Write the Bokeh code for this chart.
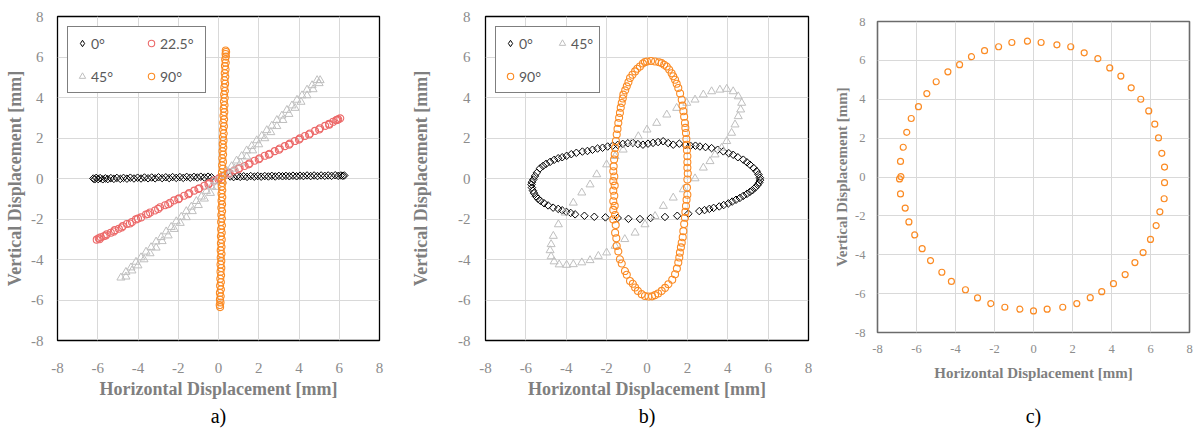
import math
from bokeh.plotting import figure
from bokeh.layouts import row, column
from bokeh.models import Range1d, FixedTicker, Legend, LegendItem, LinearAxis
from bokeh.embed import file_html
from bokeh.resources import INLINE

# ---------------- data ----------------
ticks = [-8, -6, -4, -2, 0, 2, 4, 6, 8]
tick_labels = ["-8", "-6", "-4", "-2", "0", "2", "4", "6", "8"]
x_title = "Horizontal Displacement [mm]"
y_title = "Vertical Displacement [mm]"
captions = ["a)", "b)", "c)"]
labels_a = ["0°", "22.5°", "45°", "90°"]
labels_b = ["0°", "45°", "90°"]

# panel a) 0 deg (x, y)
a_0 = [(-6.22,0.0),(-6.15,-0.04),(-6.08,0.03),(-5.98,-0.03),(-5.88,0.02),(-5.75,-0.04),(-5.62,0.01),
       (-5.5,-0.03),(-5.35,0.02),(-5.2,-0.02),(-5.05,0.03),(-4.88,-0.02),(-4.72,0.03),(-4.55,-0.01),
       (-4.38,0.04),(-4.2,0.0),(-4.02,0.04),(-3.85,0.0),(-3.68,0.05),(-3.5,0.01),(-3.32,0.05),(-3.15,0.01),
       (-2.98,0.06),(-2.8,0.02),(-2.62,0.06),(-2.45,0.02),(-2.28,0.07),(-2.1,0.03),(-1.92,0.07),(-1.75,0.03),
       (-1.58,0.08),(-1.4,0.04),(-1.22,0.08),(-1.05,0.05),(-0.88,0.09),(-0.7,0.05),(-0.52,0.09),(-0.35,0.06),
       (0.58,0.1),(0.75,0.07),(0.92,0.11),(1.08,0.08),(1.25,0.11),(1.42,0.08),(1.6,0.12),(1.78,0.09),
       (1.95,0.12),(2.12,0.09),(2.3,0.12),(2.48,0.1),(2.65,0.13),(2.82,0.1),(3.0,0.13),(3.18,0.11),
       (3.35,0.13),(3.52,0.11),(3.7,0.14),(3.88,0.11),(4.05,0.14),(4.22,0.12),(4.4,0.15),(4.58,0.12),
       (4.75,0.15),(4.92,0.12),(5.1,0.15),(5.28,0.13),(5.45,0.15),(5.62,0.13),(5.8,0.16),(5.95,0.13),
       (6.08,0.15),(6.18,0.13),(6.25,0.15)]
# panel a) 22.5 deg
a_22 = [(-6.05,-3.02),(-5.95,-2.95),(-5.85,-2.9),(-5.7,-2.85),(-5.55,-2.75),(-5.35,-2.68),(-5.15,-2.55),
        (-4.95,-2.48),(-4.75,-2.35),(-4.55,-2.25),(-4.3,-2.15),(-4.1,-2.02),(-3.85,-1.92),(-3.6,-1.78),
        (-3.4,-1.68),(-3.15,-1.58),(-2.9,-1.42),(-2.65,-1.32),(-2.4,-1.2),(-2.2,-1.08),(-1.95,-0.98),
        (-1.7,-0.85),(-1.45,-0.72),(-1.2,-0.6),(-0.95,-0.48),(-0.7,-0.36),(-0.45,-0.22),(-0.2,-0.1),
        (0.05,0.02),(0.3,0.15),(0.55,0.28),(0.8,0.4),(1.05,0.52),(1.3,0.62),(1.55,0.75),(1.8,0.88),
        (2.05,1.0),(2.3,1.12),(2.55,1.22),(2.8,1.35),(3.05,1.48),(3.3,1.6),(3.55,1.72),(3.8,1.85),
        (4.05,1.98),(4.3,2.1),(4.55,2.22),(4.8,2.35),(5.05,2.48),(5.3,2.6),(5.5,2.7),(5.7,2.8),
        (5.85,2.88),(5.95,2.92),(6.05,2.97),
        (-5.9,-3.0),(-5.6,-2.82),(-5.2,-2.62),(-4.8,-2.42),(-4.4,-2.22),(-4.0,-1.98),(-3.5,-1.75),
        (-3.0,-1.5),(-2.5,-1.27),(-2.0,-1.02),(-1.5,-0.78),(-1.0,-0.52),(-0.5,-0.28),(0.0,-0.04),
        (0.5,0.22),(1.0,0.47),(1.5,0.7),(2.0,0.95),(2.5,1.18),(3.0,1.42),(3.5,1.67),(4.0,1.92),
        (4.5,2.17),(5.0,2.42),(5.5,2.66),(5.9,2.9)]
# panel a) 45 deg
a_45 = [(-4.85,-4.9),(-4.6,-4.62),(-4.35,-4.4),(-4.1,-4.12),(-3.85,-3.9),(-3.6,-3.62),(-3.35,-3.4),
        (-3.1,-3.12),(-2.85,-2.9),(-2.6,-2.62),(-2.35,-2.4),(-2.1,-2.12),(-1.85,-1.9),(-1.6,-1.62),
        (-1.35,-1.4),(-1.1,-1.12),(-0.85,-0.9),(-0.6,-0.62),(-0.35,-0.4),(-0.1,-0.12),(0.15,0.1),
        (0.4,0.38),(0.65,0.6),(0.9,0.88),(1.15,1.1),(1.4,1.38),(1.65,1.6),(1.9,1.88),(2.15,2.1),
        (2.4,2.38),(2.65,2.6),(2.9,2.88),(3.15,3.1),(3.4,3.38),(3.65,3.6),(3.9,3.88),(4.15,4.1),
        (4.4,4.38),(4.65,4.6),(4.9,4.85),
        (-4.6,-4.85),(-4.3,-4.55),(-4.0,-4.3),(-3.7,-4.0),(-3.4,-3.7),(-3.1,-3.42),(-2.8,-3.1),
        (-2.5,-2.82),(-2.2,-2.5),(-1.9,-2.2),(-1.6,-1.92),(-1.3,-1.62),(-1.0,-1.32),(-0.7,-1.0),
        (-0.4,-0.72),(-0.1,-0.42),(0.2,-0.12),(0.5,0.18),(0.8,0.48),(1.1,0.78),(1.4,1.08),(1.7,1.38),
        (2.0,1.68),(2.3,1.98),(2.6,2.28),(2.9,2.58),(3.2,2.88),(3.5,3.18),(3.8,3.48),(4.1,3.78),
        (4.4,4.1),(4.7,4.4),(5.0,4.7),(5.05,4.85)]
# panel a) 90 deg
a_90 = [(0.08,-6.35),(0.06,-6.25),(0.1,-6.12),(0.07,-5.98),(0.11,-5.82),(0.07,-5.65),(0.12,-5.48),
        (0.08,-5.3),(0.12,-5.12),(0.09,-4.95),(0.13,-4.78),(0.1,-4.6),(0.14,-4.42),(0.1,-4.25),
        (0.14,-4.08),(0.11,-3.9),(0.15,-3.72),(0.11,-3.55),(0.15,-3.38),(0.12,-3.2),(0.16,-3.02),
        (0.12,-2.85),(0.16,-2.68),(0.13,-2.5),(0.17,-2.32),(0.13,-2.15),(0.17,-1.98),(0.14,-1.8),
        (0.18,-1.62),(0.14,-1.45),(0.18,-1.28),(0.15,-1.1),(0.19,-0.92),(0.15,-0.75),(0.19,-0.58),
        (0.16,-0.4),(0.2,-0.22),(0.16,-0.05),(0.2,0.12),(0.17,0.3),(0.21,0.48),(0.18,0.65),(0.22,0.82),
        (0.19,1.0),(0.23,1.18),(0.2,1.35),(0.24,1.52),(0.21,1.7),(0.25,1.88),(0.22,2.05),(0.26,2.22),
        (0.23,2.4),(0.27,2.58),(0.24,2.75),(0.28,2.92),(0.25,3.1),(0.29,3.28),(0.26,3.45),(0.3,3.62),
        (0.27,3.8),(0.31,3.98),(0.28,4.15),(0.32,4.32),(0.29,4.5),(0.33,4.68),(0.3,4.85),(0.34,5.02),
        (0.31,5.2),(0.35,5.38),(0.32,5.55),(0.36,5.72),(0.33,5.88),(0.37,6.02),(0.35,6.15),(0.38,6.25),
        (0.36,6.32)]

# panel b) 0 deg
b_0 = [(-5.63,-0.05),(-5.55,0.12),(-5.46,0.28),(-5.3,0.5),(-5.15,0.62),(-5.0,0.72),(-4.8,0.82),
       (-4.6,0.92),(-4.4,1.0),(-4.2,1.05),(-3.98,1.12),(-3.75,1.2),(-3.5,1.27),(-3.2,1.33),(-2.95,1.36),
       (-2.7,1.42),(-2.45,1.48),(-2.2,1.52),(-1.95,1.58),(-1.7,1.62),(-1.45,1.66),(-1.2,1.71),(-0.95,1.74),
       (-0.7,1.76),(-0.45,1.7),(-0.2,1.67),(0.05,1.72),(0.3,1.76),(0.55,1.8),(0.8,1.84),(1.05,1.75),
       (1.3,1.67),(1.6,1.72),(1.9,1.65),(2.15,1.62),(2.4,1.62),(2.62,1.58),(2.9,1.55),(3.2,1.5),
       (3.5,1.42),(3.78,1.34),(4.05,1.25),(4.27,1.17),(4.5,1.05),(4.77,0.93),(4.95,0.8),(5.1,0.68),
       (5.28,0.52),(5.43,0.36),(5.52,0.2),(5.59,0.04),(5.6,-0.08),
       (5.56,-0.2),(5.48,-0.32),(5.36,-0.45),(5.22,-0.58),(5.1,-0.66),(4.95,-0.76),(4.77,-0.86),
       (4.6,-0.96),(4.41,-1.05),(4.22,-1.14),(4.03,-1.23),(3.8,-1.31),(3.58,-1.38),(3.3,-1.45),
       (3.09,-1.5),(2.85,-1.56),(2.59,-1.61),(2.05,-1.74),(1.5,-1.84),(0.89,-1.9),(0.18,-1.95),
       (-0.35,-2.0),(-0.92,-1.99),(-1.45,-1.95),(-2.06,-1.92),(-2.61,-1.89),(-3.1,-1.84),(-3.56,-1.77),
       (-3.78,-1.7),(-4.0,-1.64),(-4.2,-1.57),(-4.4,-1.5),(-4.65,-1.44),(-4.9,-1.33),(-5.1,-1.22),
       (-5.28,-1.1),(-5.4,-1.0),(-5.5,-0.88),(-5.6,-0.72),(-5.65,-0.6),(-5.7,-0.45),(-5.72,-0.3),
       (-5.7,-0.18)]
# panel b) 45 deg
b_45 = [(4.27,4.3),(3.95,4.42),(3.61,4.38),(3.2,4.3),(2.79,4.14),(2.38,3.89),(1.97,3.73),(1.47,3.48),
        (0.98,3.15),(0.48,2.74),(0.0,2.41),(-0.43,2.08),(-0.76,1.76),(-1.18,1.42),(-1.58,1.1),(-2.0,0.69),
        (-2.49,0.2),(-2.82,-0.3),(-3.23,-0.7),(-3.65,-1.2),(-4.06,-1.69),(-4.39,-2.27),(-4.64,-2.84),
        (-4.75,-3.25),(-4.8,-3.55),(-4.75,-3.85),(-4.6,-4.1),(-4.35,-4.25),
        (-3.98,-4.27),(-3.65,-4.24),(-3.23,-4.15),(-2.82,-4.04),(-2.41,-3.83),(-2.0,-3.66),(-1.58,-3.33),
        (-1.1,-3.0),(-0.59,-2.68),(-0.1,-2.27),(0.4,-1.86),(0.81,-1.36),(1.3,-0.95),(1.8,-0.54),
        (2.38,0.0),(2.79,0.53),(3.12,0.85),(3.37,1.18),(3.7,1.51),(3.95,1.84),(4.19,2.25),(4.36,2.66),
        (4.52,3.07),(4.64,3.4),(4.69,3.73),(4.52,4.05)]
# panel b) 90 deg
b_90 = [(0.4,5.78),(0.0,5.78),(0.2,5.8),(0.6,5.74),(-0.2,5.68),(-0.35,5.53),(-0.59,5.29),(-0.84,4.96),
        (-1.0,4.55),(-1.17,4.14),(-1.25,3.73),(-1.34,3.24),(-1.42,2.74),(-1.5,2.17),(-1.58,1.51),
        (-1.63,0.94),(-1.67,0.36),(-1.67,-0.13),(-1.67,-0.6),(-1.67,-1.12),(-1.67,-1.55),(-1.67,-2.02),
        (-1.58,-2.68),(-1.5,-3.33),(-1.34,-3.99),(-1.09,-4.57),(-0.84,-5.06),(-0.59,-5.38),(-0.26,-5.71),
        (0.07,-5.83),(0.4,-5.76),(0.73,-5.55),(1.06,-5.22),(1.39,-4.73),(1.55,-4.15),(1.63,-3.66),
        (1.72,-3.17),(1.8,-2.6),(1.88,-1.94),(1.93,-1.36),(2.0,-0.8),(2.0,-0.05),(2.0,0.53),(2.0,1.1),
        (1.97,1.67),(1.93,2.25),(1.88,2.74),(1.8,3.32),(1.72,3.89),(1.55,4.47),(1.39,4.88),(1.22,5.2),
        (0.98,5.53),(0.73,5.7),
        (-1.6,1.2),(-1.65,0.6),(-1.62,0.1),(-1.6,-0.35),(-1.62,-0.85),(-1.6,-1.35),(-1.58,-1.8),
        (-1.55,-2.3),(-1.52,-2.95),(-1.42,-3.6),(-1.25,-4.2),(-1.0,-4.75),(-0.7,-5.2),(-0.45,-5.55),
        (-0.1,-5.8),(0.25,-5.82),(0.55,-5.68),(0.9,-5.4),(1.25,-5.0),(1.48,-4.45),(1.6,-3.9),(1.68,-3.4),
        (1.77,-2.9),(1.84,-2.25),(1.9,-1.65),(1.96,-1.05),(1.98,-0.45),(2.02,0.25),(2.0,0.8),(1.98,1.4),
        (1.95,1.95),(1.9,2.5),(1.84,3.05),(1.76,3.6),(1.64,4.2),(1.47,4.68),(1.3,5.05),(1.1,5.38),
        (0.85,5.62),(-0.1,5.75),(-0.48,5.42),(-0.72,5.12),(-0.92,4.75),(-1.08,4.35),(-1.2,3.95),
        (-1.3,3.5),(-1.38,3.0),(-1.46,2.45),(-1.54,1.85)]

# panel c)
c_pts = [(-6.87,-0.10),(-6.80,0.02),(-6.82,0.80),(-6.68,1.53),(-6.50,2.30),(-6.27,3.01),(-5.90,3.62),
         (-5.47,4.29),(-4.99,4.90),(-4.39,5.41),(-3.79,5.78),(-3.18,6.19),(-2.51,6.50),(-1.79,6.70),
         (-1.11,6.92),(-0.31,6.99),(0.39,6.92),(1.20,6.80),(1.91,6.70),(2.60,6.39),(3.30,6.09),
         (3.91,5.61),(4.48,5.19),(5.01,4.59),(5.50,4.00),(5.91,3.40),(6.22,2.72),(6.41,2.01),(6.58,1.22),
         (6.72,0.51),(6.72,-0.29),(6.70,-1.12),(6.48,-1.79),(6.29,-2.50),(6.00,-3.21),(5.62,-3.89),
         (5.20,-4.40),(4.70,-5.02),(4.10,-5.49),(3.50,-5.90),(2.91,-6.21),(2.22,-6.51),(1.50,-6.70),
         (0.70,-6.80),(0.0,-6.89),(-0.70,-6.80),(-1.47,-6.70),(-2.19,-6.51),(-2.87,-6.22),(-3.49,-5.80),
         (-4.21,-5.37),(-4.70,-4.90),(-5.28,-4.30),(-5.71,-3.69),(-6.09,-2.98),(-6.39,-2.31),
         (-6.58,-1.60),(-6.82,-0.87)]

BLACK = "#000000"
RED = "#ec6a6a"
GRAY = "#bfbfbf"
ORANGE = "#fb8b24"
SERIF = "Liberation Serif"
H = 429


def xs(p):
    return [q[0] for q in p]


def ys(p):
    return [q[1] for q in p]


def base(width, mb_left, mb_right, mb_top, mb_bottom, small=False, outline="#000000"):
    p = figure(width=width, height=H, output_backend="svg", toolbar_location=None,
               x_range=Range1d(-8, 8), y_range=Range1d(-8, 8),
               min_border_left=mb_left, min_border_right=mb_right,
               min_border_top=mb_top, min_border_bottom=mb_bottom)
    p.background_fill_color = "white"
    p.border_fill_color = "white"
    p.outline_line_color = outline
    p.outline_line_width = 1.6 if small else 1.3
    tk = FixedTicker(ticks=ticks)
    p.xaxis.ticker = tk
    p.yaxis.ticker = tk
    p.xgrid.ticker = tk
    p.ygrid.ticker = tk
    for g in (p.xgrid, p.ygrid):
        g.grid_line_color = "#d9d9d9"
        g.grid_line_width = 1
    for ax in (p.xaxis, p.yaxis):
        ax.major_label_overrides = dict(zip(ticks, tick_labels))
        ax.axis_line_color = None
        ax.major_tick_line_color = None
        ax.minor_tick_line_color = None
        ax.major_tick_out = 0
        ax.major_tick_in = 0
        ax.minor_tick_out = 0
        ax.minor_tick_in = 0
        ax.major_label_text_font = SERIF
        ax.major_label_text_color = "#8c8c8c"
        ax.major_label_text_font_size = "12.5px" if small else "15px"
        ax.axis_label_text_font = SERIF
        ax.axis_label_text_font_style = "bold"
        ax.axis_label_text_color = "#7f7f7f"
        ax.axis_label_text_font_size = "15px" if small else "18px"
    p.xaxis.axis_label = x_title
    p.yaxis.axis_label = y_title
    return p


def add_caption(p, text, standoff):
    ax = LinearAxis(ticker=FixedTicker(ticks=[]), axis_label=text,
                    axis_line_color=None, major_tick_line_color=None, minor_tick_line_color=None,
                    major_tick_out=0, major_tick_in=0, minor_tick_out=0, minor_tick_in=0,
                    major_label_standoff=0, axis_label_standoff=standoff,
                    axis_label_text_font=SERIF, axis_label_text_font_size="20px",
                    axis_label_text_font_style="normal", axis_label_text_color="black")
    p.add_layout(ax, "below")


def diamonds(p, pts):
    return p.scatter(xs(pts), ys(pts), marker="square", angle=math.pi / 4, size=5.3,
                     line_color=BLACK, fill_color=None, line_width=1)


def diamond_key(p):
    # placeholder glyph (NaN, never drawn in the plot) used only for the legend key,
    # because legend keys are never rotated
    return p.scatter([float("nan")], [float("nan")], marker="diamond", size=7,
                     line_color=BLACK, fill_color=None, line_width=1)


def circles(p, pts, color, size=7.0, lw=1.1):
    return p.scatter(xs(pts), ys(pts), marker="circle", size=size,
                     line_color=color, fill_color=None, line_width=lw)


def triangles(p, pts):
    return p.scatter(xs(pts), ys(pts), marker="triangle", size=8,
                     line_color=GRAY, fill_color=None, line_width=1)


def legend(items, label_width):
    return Legend(items=items, location="top_left", orientation="horizontal", ncols=2,
                  margin=10, padding=6, spacing=13, glyph_width=16, glyph_height=20,
                  label_standoff=1, label_width=label_width, label_height=20,
                  label_text_font="Lato", label_text_font_size="14px",
                  label_text_color="#595959", border_line_color="black",
                  border_line_width=1, background_fill_color="white", background_fill_alpha=1)


# ---------- panel a ----------
pa = base(404, 57, 25, 16, 88)
pa.xaxis.major_label_standoff = 22
pa.xaxis.axis_label_standoff = 3
pa.yaxis.major_label_standoff = 14
pa.yaxis.axis_label_standoff = 3
diamonds(pa, a_0)
ka0 = diamond_key(pa)
ra22 = circles(pa, a_22, RED)
ra45 = triangles(pa, a_45)
ra90 = circles(pa, a_90, ORANGE)
pa.add_layout(legend([LegendItem(label=labels_a[0], renderers=[ka0]),
                      LegendItem(label=labels_a[1], renderers=[ra22]),
                      LegendItem(label=labels_a[2], renderers=[ra45]),
                      LegendItem(label=labels_a[3], renderers=[ra90])], 39))
add_caption(pa, captions[0], 3)

# ---------- panel b ----------
pb = base(408, 81, 4, 16, 88)
pb.xaxis.major_label_standoff = 22
pb.xaxis.axis_label_standoff = 3
pb.yaxis.major_label_standoff = 15
pb.yaxis.axis_label_standoff = 24
diamonds(pb, b_0)
kb0 = diamond_key(pb)
rb45 = triangles(pb, b_45)
rb90 = circles(pb, b_90, ORANGE)
pb.add_layout(legend([LegendItem(label=labels_b[0], renderers=[kb0]),
                      LegendItem(label=labels_b[1], renderers=[rb45]),
                      LegendItem(label=labels_b[2], renderers=[rb90])], 20))
add_caption(pb, captions[1], 3)

# ---------- panel c ----------
pc = base(387, 65, 10, 21, 95, small=True, outline="#6b6b6b")
pc.xaxis.major_label_standoff = 12
pc.xaxis.axis_label_standoff = 9
pc.yaxis.major_label_standoff = 12
pc.yaxis.axis_label_standoff = 2
circles(pc, c_pts, ORANGE, size=6, lw=1.2)
add_caption(pc, captions[2], 21)

layout = row(column(pa), column(pb), column(pc))
open("out.html", "w").write(file_html(layout, INLINE))
